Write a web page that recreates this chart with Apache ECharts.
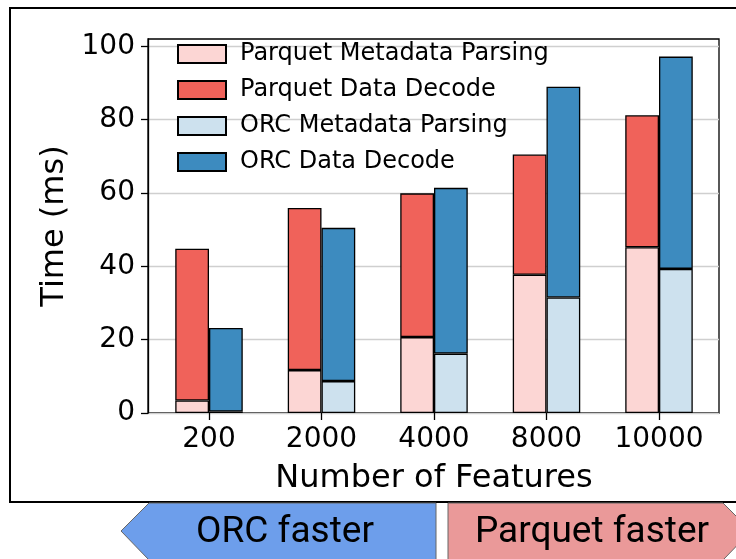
<!DOCTYPE html>
<html>
<head>
<meta charset="utf-8">
<script src="https://cdn.jsdelivr.net/npm/echarts@6/dist/echarts.min.js"></script>
<style>
html,body{margin:0;padding:0;background:#fff;}
#main{width:736px;height:559px;}
</style>
</head>
<body>
<div id="main"></div>
<script>
var categories = ['200', '2000', '4000', '8000', '10000'];
var parquetMeta = [3.4, 11.7, 20.7, 37.7, 45.2];
var parquetData = [41.4, 44.2, 39.2, 32.8, 36.0];
var orcMeta = [0.4, 8.7, 16.2, 31.5, 39.3];
var orcData = [22.8, 41.8, 45.2, 57.5, 57.9];
var yTicks = [0, 20, 40, 60, 80, 100];
var seriesNames = ['Parquet Metadata Parsing', 'Parquet Data Decode', 'ORC Metadata Parsing', 'ORC Data Decode'];
var colors = ['#fcd6d4', '#f0625a', '#cde1ee', '#3d8bbf'];

var chart = echarts.init(document.getElementById('main'), null, {renderer: 'canvas'});
var font = 'DejaVu Sans';
var yMax = 102;

function barSeries(name, data, stack, color) {
  return {
    name: name, type: 'bar', xAxisIndex: 1, yAxisIndex: 1,
    stack: stack, data: data, barWidth: 33.75, barGap: '0%',
    itemStyle: {color: color, borderColor: '#000', borderWidth: 1.3},
    emphasis: {disabled: true}
  };
}

var option = {
  animation: false,
  textStyle: {fontFamily: font},
  grid: [
    {left: 148, right: 17, top: 39, bottom: 146, show: true, borderColor: '#000', borderWidth: 1.3, backgroundColor: 'transparent'},
    {left: 152.75, width: 562.5, top: 39, bottom: 146}
  ],
  xAxis: [
    {gridIndex: 0, type: 'value', min: 0, max: 1, show: false},
    {gridIndex: 1, type: 'category', data: categories,
     axisLine: {show: false},
     axisTick: {show: true, alignWithLabel: true, length: 7, lineStyle: {color: '#000', width: 1.3}},
     axisLabel: {fontSize: 28, color: '#000', fontFamily: font, margin: 13, interval: 0},
     name: 'Number of Features', nameLocation: 'middle', nameGap: 50,
     nameTextStyle: {fontSize: 32, color: '#000', fontFamily: font}
    }
  ],
  yAxis: [
    {gridIndex: 0, type: 'value', min: 0, max: yMax,
     axisLine: {show: true, lineStyle: {color: '#000', width: 1.3}},
     axisTick: {show: true, length: 7, customValues: yTicks, lineStyle: {color: '#000', width: 1.3}},
     axisLabel: {fontSize: 28, color: '#000', fontFamily: font, margin: 13, customValues: yTicks},
     splitLine: {show: true, lineStyle: {color: '#cfcfcf', width: 1.3}},
     name: 'Time (ms)', nameLocation: 'middle', nameGap: 72,
     nameTextStyle: {fontSize: 32, color: '#000', fontFamily: font}
    },
    {gridIndex: 1, type: 'value', min: 0, max: yMax, show: false, splitLine: {show: false}}
  ],
  legend: {
    orient: 'vertical', left: 172, top: 37,
    itemWidth: 48, itemHeight: 18, itemGap: 12,
    icon: 'rect',
    selectedMode: false,
    data: seriesNames,
    textStyle: {fontSize: 24, color: '#000', fontFamily: font, padding: [0, 0, 0, 9]}
  },
  series: [
    barSeries(seriesNames[0], parquetMeta, 'parquet', colors[0]),
    barSeries(seriesNames[1], parquetData, 'parquet', colors[1]),
    barSeries(seriesNames[2], orcMeta, 'orc', colors[2]),
    barSeries(seriesNames[3], orcData, 'orc', colors[3])
  ],
  graphic: [
    {type: 'rect', shape: {x: 10, y: 8, width: 740, height: 494}, style: {fill: 'none', stroke: '#000', lineWidth: 2}, z: -10, silent: true},
    {type: 'polygon', shape: {points: [[121, 531], [149, 503], [436, 503], [436, 560], [149, 560]]},
     style: {fill: '#6d9eeb', stroke: '#666', lineWidth: 1}, silent: true},
    {type: 'polygon', shape: {points: [[448, 503], [723, 503], [751, 531], [723, 560], [448, 560]]},
     style: {fill: '#ea9999', stroke: '#666', lineWidth: 1}, silent: true},
    {type: 'text', x: 285, y: 533, style: {text: 'ORC faster', fontSize: 37, fontFamily: 'Roboto', fill: '#000', textAlign: 'center', textVerticalAlign: 'middle'}, silent: true},
    {type: 'text', x: 592, y: 533, style: {text: 'Parquet faster', fontSize: 37, fontFamily: 'Roboto', fill: '#000', textAlign: 'center', textVerticalAlign: 'middle'}, silent: true}
  ]
};
chart.setOption(option);
</script>
</body>
</html>
